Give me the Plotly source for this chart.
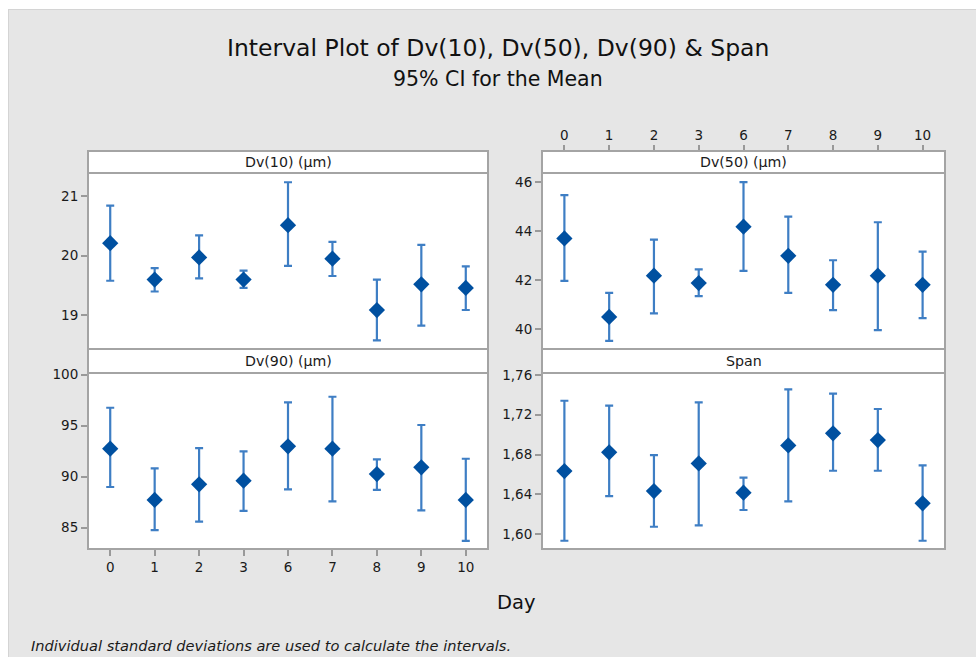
import plotly.graph_objects as go

# Day categories (equally spaced on a categorical axis)
days = ["0", "1", "2", "3", "6", "7", "8", "9", "10"]

# Dv(10) (µm): mean and 95% CI
dv10_mean = [20.21, 19.60, 19.97, 19.60, 20.51, 19.95, 19.09, 19.52, 19.46]
dv10_low = [19.58, 19.40, 19.62, 19.46, 19.83, 19.66, 18.58, 18.83, 19.09]
dv10_high = [20.84, 19.79, 20.34, 19.75, 21.23, 20.23, 19.60, 20.18, 19.82]

# Dv(50) (µm)
dv50_mean = [43.71, 40.51, 42.19, 41.89, 44.19, 43.00, 41.82, 42.19, 41.82]
dv50_low = [41.98, 39.53, 40.65, 41.36, 42.39, 41.49, 40.79, 39.97, 40.46]
dv50_high = [45.48, 41.49, 43.66, 42.45, 46.01, 44.60, 42.82, 44.37, 43.17]

# Dv(90) (µm)
dv90_mean = [92.75, 87.72, 89.25, 89.61, 92.98, 92.75, 90.26, 90.92, 87.72]
dv90_low = [88.99, 84.77, 85.59, 86.64, 88.76, 87.58, 88.70, 86.70, 83.70]
dv90_high = [96.76, 90.82, 92.81, 92.49, 97.29, 97.84, 91.70, 95.07, 91.76]

# Span
span_mean = [1.6634, 1.6822, 1.6433, 1.6711, 1.6416, 1.6892, 1.7013, 1.6946, 1.6309]
span_low = [1.5933, 1.6382, 1.6074, 1.6087, 1.6242, 1.6329, 1.6637, 1.6637, 1.5933]
span_high = [1.7341, 1.7291, 1.6795, 1.7325, 1.6567, 1.7456, 1.7412, 1.7258, 1.6691]

panel_titles = ["Dv(10) (µm)", "Dv(50) (µm)", "Dv(90) (µm)", "Span"]

W, H = 976, 657
FONT = "DejaVu Sans"
MARK = "#0050A0"
BAR = "#3E7EC4"
FRAME = "#A4A4A4"
BG = "#E6E6E6"
TXT = "#1A1A1A"


def fx(px):
    return px / W


def fy(py):
    return 1 - py / H


# panel geometry (pixels): x-extent, strip top, data top, data bottom
cols = [(88, 488), (542, 945)]
rows = [(151, 173, 349), (349, 373, 549)]

panels = [
    (dv10_mean, dv10_low, dv10_high, [18.437, 21.385], [19, 20, 21], None),
    (dv50_mean, dv50_low, dv50_high, [39.2, 46.38], [40, 42, 44, 46], None),
    (dv90_mean, dv90_low, dv90_high, [82.91, 100.17], [85, 90, 95, 100], None),
    (span_mean, span_low, span_high, [1.585, 1.762],
     [1.60, 1.64, 1.68, 1.72, 1.76], ".2f"),
]

fig = go.Figure()
shapes = []
annotations = []

for i, (mean, low, high, yr, tv, tf) in enumerate(panels):
    r, c = divmod(i, 2)
    x0, x1 = cols[c]
    st, dt, db = rows[r]
    n = i + 1
    xa = "x" if n == 1 else f"x{n}"
    ya = "y" if n == 1 else f"y{n}"

    fig.add_trace(go.Scatter(
        x=days, y=mean, xaxis=xa, yaxis=ya, mode="markers",
        marker=dict(symbol="diamond", size=12.5, color=MARK),
        error_y=dict(type="data", symmetric=False,
                     array=[h - m for h, m in zip(high, mean)],
                     arrayminus=[m - l for m, l in zip(mean, low)],
                     color=BAR, thickness=2.2, width=4),
        showlegend=False, hoverinfo="x+y",
    ))

    xkey = "xaxis" if n == 1 else f"xaxis{n}"
    ykey = "yaxis" if n == 1 else f"yaxis{n}"
    xdict = dict(domain=[fx(x0), fx(x1)], type="category",
                 categoryorder="array", categoryarray=days,
                 range=[-0.5, 8.5], showgrid=False, zeroline=False,
                 showline=False, fixedrange=True, automargin=False,
                 tickfont=dict(family=FONT, size=13.5, color=TXT),
                 ticks="", showticklabels=False, anchor=ya)
    if n == 2:
        xdict.update(side="top", anchor="free", position=fy(st),
                     ticks="outside", ticklen=6, tickwidth=1.5,
                     tickcolor="#999999", showticklabels=True)
    if n == 3:
        xdict.update(ticks="outside", ticklen=6, tickwidth=1.5,
                     tickcolor="#999999", showticklabels=True)
    ydict = dict(domain=[fy(db), fy(dt)], range=yr, tickvals=tv,
                 showgrid=False, zeroline=False, showline=False,
                 fixedrange=True, ticks="outside", ticklen=6,
                 tickwidth=1.5, tickcolor="#999999", anchor=xa,
                 automargin=False,
                 tickfont=dict(family=FONT, size=13.5, color=TXT))
    if tf:
        ydict["tickformat"] = tf
    fig.update_layout({xkey: xdict, ykey: ydict})

    # strip header
    shapes.append(dict(type="rect", xref="paper", yref="paper",
                       x0=fx(x0), x1=fx(x1), y0=fy(dt), y1=fy(st),
                       fillcolor="white", line=dict(width=0), layer="below"))
    shapes.append(dict(type="line", xref="paper", yref="paper",
                       x0=fx(x0), x1=fx(x1), y0=fy(dt), y1=fy(dt),
                       line=dict(color=FRAME, width=2)))
    # panel frame
    shapes.append(dict(type="rect", xref="paper", yref="paper",
                       x0=fx(x0), x1=fx(x1), y0=fy(db), y1=fy(st),
                       line=dict(color=FRAME, width=2)))
    annotations.append(dict(text=panel_titles[i], xref="paper", yref="paper",
                            x=fx((x0 + x1) / 2), y=fy((st + dt) / 2),
                            showarrow=False, xanchor="center", yanchor="middle",
                            font=dict(family=FONT, size=14.2, color=TXT)))

# white margin at top and left edges
shapes.append(dict(type="rect", xref="paper", yref="paper", x0=0, x1=1,
                   y0=fy(9), y1=1, fillcolor="white", line=dict(width=0)))
shapes.append(dict(type="rect", xref="paper", yref="paper", x0=0, x1=fx(8),
                   y0=0, y1=1, fillcolor="white", line=dict(width=0)))
shapes.append(dict(type="line", xref="paper", yref="paper", x0=fx(8), x1=1,
                   y0=fy(9.5), y1=fy(9.5), line=dict(color="#D4D4D4", width=1)))
shapes.append(dict(type="line", xref="paper", yref="paper", x0=fx(8.5), x1=fx(8.5),
                   y0=0, y1=fy(9), line=dict(color="#D4D4D4", width=1)))

annotations += [
    dict(text="Interval Plot of Dv(10), Dv(50), Dv(90) & Span", xref="paper",
         yref="paper", x=fx(498), y=fy(48), showarrow=False,
         xanchor="center", yanchor="middle",
         font=dict(family=FONT, size=23.5, color="#111111")),
    dict(text="95% CI for the Mean", xref="paper", yref="paper",
         x=fx(498), y=fy(79), showarrow=False, xanchor="center",
         yanchor="middle", font=dict(family=FONT, size=20.5, color="#111111")),
    dict(text="Day", xref="paper", yref="paper", x=fx(516), y=fy(602),
         showarrow=False, xanchor="center", yanchor="middle",
         font=dict(family=FONT, size=19.5, color="#111111")),
    dict(text="<i>Individual standard deviations are used to calculate the intervals.</i>",
         xref="paper", yref="paper", x=fx(29), y=fy(645), showarrow=False,
         xanchor="left", yanchor="middle",
         font=dict(family=FONT, size=14.6, color=TXT)),
]

fig.update_layout(
    width=W, height=H, margin=dict(l=0, r=0, t=0, b=0, pad=0),
    paper_bgcolor=BG, plot_bgcolor="white", separators=",.",
    shapes=shapes, annotations=annotations, showlegend=False,
)

fig.write_html("out.html", config={"displayModeBar": False})
